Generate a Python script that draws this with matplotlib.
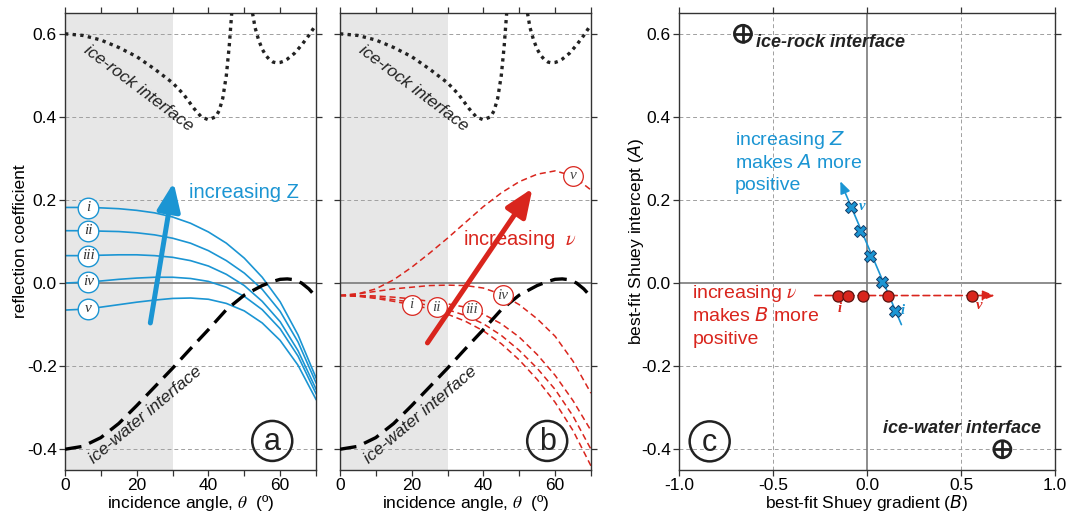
import matplotlib
matplotlib.use("Agg")
import matplotlib.pyplot as plt
import numpy as np

plt.rcParams['font.family'] = ['Liberation Sans', 'DejaVu Sans']

BLUE = '#1b95d3'
RED = '#d9251d'
GRID = '#a0a0a0'

# ---- data ----
angle = [0, 5, 10, 15, 20, 25, 30, 35, 40, 45, 50, 55, 60, 65, 70]
numerals = ['i', 'ii', 'iii', 'iv', 'v']

# panel a: increasing acoustic impedance Z (solid blue)
z_curves = [
    [0.182, 0.182, 0.181, 0.179, 0.175, 0.169, 0.159, 0.144, 0.123, 0.096, 0.060, 0.014, -0.045, -0.125, -0.228],
    [0.126, 0.126, 0.125, 0.124, 0.121, 0.116, 0.108, 0.096, 0.078, 0.054, 0.024, -0.015, -0.068, -0.142, -0.240],
    [0.066, 0.066, 0.067, 0.068, 0.068, 0.066, 0.062, 0.054, 0.041, 0.021, -0.006, -0.044, -0.093, -0.163, -0.255],
    [0.000, 0.002, 0.005, 0.009, 0.012, 0.014, 0.014, 0.011, 0.004, -0.010, -0.032, -0.064, -0.110, -0.176, -0.266],
    [-0.065, -0.063, -0.058, -0.052, -0.046, -0.041, -0.037, -0.036, -0.039, -0.049, -0.067, -0.096, -0.138, -0.198, -0.280],
]
z_label_x = [6.5, 6.5, 6.5, 6.5, 6.5]

# panel b: increasing Poisson's ratio nu (dashed red)
nu_curves = [
    [-0.030, -0.032, -0.037, -0.044, -0.052, -0.062, -0.075, -0.092, -0.115, -0.146, -0.185, -0.232, -0.287, -0.355, -0.440],
    [-0.030, -0.031, -0.034, -0.040, -0.046, -0.054, -0.064, -0.078, -0.098, -0.126, -0.162, -0.205, -0.256, -0.320, -0.400],
    [-0.030, -0.030, -0.031, -0.034, -0.038, -0.044, -0.050, -0.058, -0.075, -0.098, -0.130, -0.172, -0.222, -0.283, -0.355],
    [-0.030, -0.026, -0.020, -0.014, -0.010, -0.006, -0.005, -0.006, -0.012, -0.027, -0.052, -0.086, -0.128, -0.188, -0.265],
    [-0.030, -0.026, -0.014, 0.008, 0.038, 0.072, 0.108, 0.146, 0.184, 0.217, 0.244, 0.262, 0.270, 0.258, 0.224],
]
nu_label_x = [20, 27, 36.7, 45.4, 65]

# reference interfaces
rock_x1 = [0, 5, 10, 15, 20, 25, 30, 33, 36, 38, 40, 42, 43, 44, 45, 45.8, 46.5]
rock_y1 = [0.600, 0.596, 0.585, 0.567, 0.545, 0.515, 0.482, 0.455, 0.420, 0.400, 0.393, 0.400, 0.415, 0.445, 0.500, 0.570, 0.650]
rock_x2 = [52.3, 53, 54, 55, 56, 57, 58, 59, 60, 61, 62, 64, 66, 68, 70]
rock_y2 = [0.650, 0.615, 0.585, 0.563, 0.548, 0.538, 0.532, 0.530, 0.531, 0.534, 0.539, 0.553, 0.573, 0.596, 0.622]
water_x = [0, 5, 10, 15, 20, 25, 30, 35, 40, 45, 50, 55, 58, 60, 62, 64, 66, 68, 70]
water_y = [-0.400, -0.393, -0.372, -0.338, -0.295, -0.250, -0.205, -0.158, -0.112, -0.064, -0.029, -0.006, 0.004, 0.009, 0.010, 0.008, 0.000, -0.014, -0.033]

# panel c: best-fit Shuey gradient (B) and intercept (A)
z_B = [0.147, 0.081, 0.018, -0.036, -0.085]
z_A = [-0.067, 0.002, 0.066, 0.126, 0.184]
nu_B = [-0.153, -0.099, -0.020, 0.110, 0.560]
nu_A = [-0.030, -0.030, -0.030, -0.030, -0.030]
iface_B = [-0.66, 0.72]
iface_A = [0.60, -0.40]

# annotation arrows (tail, head)
arrow_a = [(23.8, -0.096), (30.3, 0.242)]
arrow_b = [(24.4, -0.144), (53.7, 0.228)]
arrow_cz = [(0.183, -0.100), (-0.142, 0.245)]
arrow_cnu = [(-0.278, -0.030), (0.679, -0.030)]

fig = plt.figure(figsize=(10.69, 5.16), dpi=100)
ax_a = fig.add_axes([0.0608, 0.0891, 0.2348, 0.8857])
ax_b = fig.add_axes([0.3180, 0.0891, 0.2348, 0.8857])
ax_c = fig.add_axes([0.6352, 0.0891, 0.3517, 0.8857])

yticks = [-0.4, -0.2, 0.0, 0.2, 0.4, 0.6]
ylabels = ['-0.4', '-0.2', '0.0', '0.2', '0.4', '0.6']


def frame(ax):
    for s in ax.spines.values():
        s.set_color('#333333')
        s.set_linewidth(1.0)
    ax.tick_params(direction='out', top=True, right=True, length=4, pad=2,
                   width=0.9, labelsize=12.5, color='#333333')
    ax.set_ylim(-0.45, 0.65)
    ax.set_yticks(yticks)
    for y in yticks:
        if y != 0:
            ax.axhline(y, color=GRID, lw=0.7, ls=(0, (4, 3)), zorder=1)
    ax.axhline(0, color='#7a7a7a', lw=1.2, zorder=1)


def angle_panel(ax, letter):
    frame(ax)
    ax.set_xlim(0, 70)
    ax.axvspan(0, 30, color='#e7e7e7', lw=0, zorder=0)
    ax.set_xticks(np.arange(0, 71, 10))
    ax.set_xticklabels(['0', '', '20', '', '40', '', '60', ''])
    ax.set_xlabel('incidence angle, $\\theta$  (º)', fontsize=12.5,
                  math_fontfamily='stix', labelpad=0)
    ax.plot(rock_x1, rock_y1, color='#222222', lw=2.4, ls=(0, (1, 1.3)), zorder=3)
    ax.plot(rock_x2, rock_y2, color='#222222', lw=2.4, ls=(0, (1, 1.3)), zorder=3)
    ax.plot(water_x, water_y, color='black', lw=2.4, ls=(0, (5, 2.5)), zorder=3)
    ax.text(20.5, 0.470, 'ice-rock interface', rotation=-37, style='italic',
            fontsize=12.5, color='#222222', ha='center', va='center', zorder=4)
    ax.text(22.4, -0.318, 'ice-water interface', rotation=40, style='italic',
            fontsize=12.5, color='#222222', ha='center', va='center', zorder=4)
    ax.scatter([57.8], [-0.38], s=830, facecolor='none', edgecolor='#222222',
               lw=1.8, zorder=5)
    ax.text(57.8, -0.383, letter, fontsize=22, ha='center', va='center',
            color='#222222', zorder=6)


# ---- panel a ----
angle_panel(ax_a, 'a')
ax_a.set_yticklabels(ylabels)
ax_a.set_ylabel('reflection coefficient', fontsize=12.5, labelpad=-1)
for curve, name, lx in zip(z_curves, numerals, z_label_x):
    ax_a.plot(angle, curve, color=BLUE, lw=1.2, zorder=2)
    ly = np.interp(lx, angle, curve)
    ax_a.scatter([lx], [ly], s=220, facecolor='white', edgecolor=BLUE, lw=1.0, zorder=5)
    ax_a.text(lx, ly, name, family='Liberation Serif', style='italic', fontsize=11,
              ha='center', va='center', color='#333333', zorder=6)
ax_a.annotate('', xy=arrow_a[1], xytext=arrow_a[0],
              arrowprops=dict(arrowstyle='-|>,head_length=0.85,head_width=0.35',
                              mutation_scale=20, lw=3.6, color=BLUE,
                              shrinkA=0, shrinkB=0), zorder=4)
ax_a.text(34.5, 0.218, 'increasing Z', color=BLUE, fontsize=14.5,
          ha='left', va='center')

# ---- panel b ----
angle_panel(ax_b, 'b')
ax_b.set_yticklabels([])
for curve, name, lx in zip(nu_curves, numerals, nu_label_x):
    ax_b.plot(angle, curve, color=RED, lw=1.1, ls=(0, (4, 2.5)), zorder=2)
    ly = np.interp(lx, angle, curve)
    ax_b.scatter([lx], [ly], s=200, facecolor='white', edgecolor=RED, lw=0.9, zorder=5)
    ax_b.text(lx, ly, name, family='Liberation Serif', style='italic', fontsize=11,
              ha='center', va='center', color='#444444', zorder=6)
ax_b.annotate('', xy=arrow_b[1], xytext=arrow_b[0],
              arrowprops=dict(arrowstyle='-|>,head_length=0.85,head_width=0.35',
                              mutation_scale=20, lw=3.6, color=RED,
                              shrinkA=0, shrinkB=0), zorder=4)
ax_b.text(34.4, 0.104, 'increasing  $\\nu$', color=RED, fontsize=14.5,
          ha='left', va='center', math_fontfamily='stix')

# ---- panel c ----
frame(ax_c)
ax_c.set_xlim(-1, 1)
ax_c.set_xticks([-1.0, -0.5, 0.0, 0.5, 1.0])
ax_c.set_xticklabels(['-1.0', '-0.5', '0.0', '0.5', '1.0'])
ax_c.set_yticklabels(ylabels)
for x in [-0.5, 0.5]:
    ax_c.axvline(x, color=GRID, lw=0.7, ls=(0, (4, 3)), zorder=1)
ax_c.axvline(0, color='#7a7a7a', lw=1.2, zorder=1)
ax_c.set_xlabel('best-fit Shuey gradient ($B$)', fontsize=12.5,
                math_fontfamily='dejavusans', labelpad=0)
ax_c.set_ylabel('best-fit Shuey intercept ($A$)', fontsize=12.5,
                math_fontfamily='dejavusans', labelpad=-4)

ax_c.annotate('', xy=arrow_cz[1], xytext=arrow_cz[0],
              arrowprops=dict(arrowstyle='-|>,head_length=0.6,head_width=0.25',
                              mutation_scale=12, lw=1.2, color=BLUE,
                              shrinkA=0, shrinkB=0), zorder=3)
ax_c.annotate('', xy=arrow_cnu[1], xytext=arrow_cnu[0],
              arrowprops=dict(arrowstyle='-|>,head_length=0.6,head_width=0.25',
                              mutation_scale=12, lw=1.2, color=RED, ls=(0, (4, 2.5)),
                              shrinkA=0, shrinkB=0), zorder=3)
ax_c.plot(nu_B, nu_A, 'o', ms=8, mfc=RED, mec='#5a1410', mew=0.9, zorder=5)
ax_c.plot(z_B, z_A, 'X', ms=8, mfc=BLUE, mec='#123a66', mew=0.7, zorder=6)

small = dict(family='Liberation Serif', style='italic', fontweight='bold', fontsize=10.5,
             ha='center', va='center')
ax_c.text(-0.144, -0.061, 'i', color=RED, **small)
ax_c.text(0.596, -0.054, 'v', color=RED, **small)
ax_c.text(0.190, -0.067, 'i', color=BLUE, **small)
ax_c.text(-0.028, 0.184, 'v', color=BLUE, **small)

ax_c.scatter(iface_B, iface_A, s=150, facecolor='none', edgecolor='#222222', lw=2.0, zorder=5)
ax_c.scatter(iface_B, iface_A, s=150, marker='+', color='#222222', lw=2.0, zorder=5)
ax_c.text(-0.589, 0.578, 'ice-rock interface', style='italic', fontweight='bold',
          fontsize=13, color='#222222', ha='left', va='center')
ax_c.text(0.927, -0.349, 'ice-water interface', style='italic', fontweight='bold',
          fontsize=13, color='#222222', ha='right', va='center')

line_gap = 0.055
ax_c.text(-0.704, 0.345, 'increasing $Z$', color=BLUE, fontsize=14, ha='left',
          va='center', math_fontfamily='dejavusans')
ax_c.text(-0.704, 0.345 - line_gap, 'makes $A$ more', color=BLUE, fontsize=14,
          ha='left', va='center', math_fontfamily='dejavusans')
ax_c.text(-0.704, 0.345 - 2 * line_gap, 'positive', color=BLUE, fontsize=14,
          ha='left', va='center')
ax_c.text(-0.929, -0.025, 'increasing $\\nu$', color=RED, fontsize=14, ha='left',
          va='center', math_fontfamily='stix')
ax_c.text(-0.929, -0.025 - line_gap, 'makes $B$ more', color=RED, fontsize=14,
          ha='left', va='center', math_fontfamily='dejavusans')
ax_c.text(-0.929, -0.025 - 2 * line_gap, 'positive', color=RED, fontsize=14,
          ha='left', va='center')

ax_c.scatter([-0.837], [-0.381], s=830, facecolor='none', edgecolor='#222222', lw=1.8, zorder=5)
ax_c.text(-0.837, -0.384, 'c', fontsize=22, ha='center', va='center', color='#222222', zorder=6)

fig.savefig('out.png', dpi=100)
